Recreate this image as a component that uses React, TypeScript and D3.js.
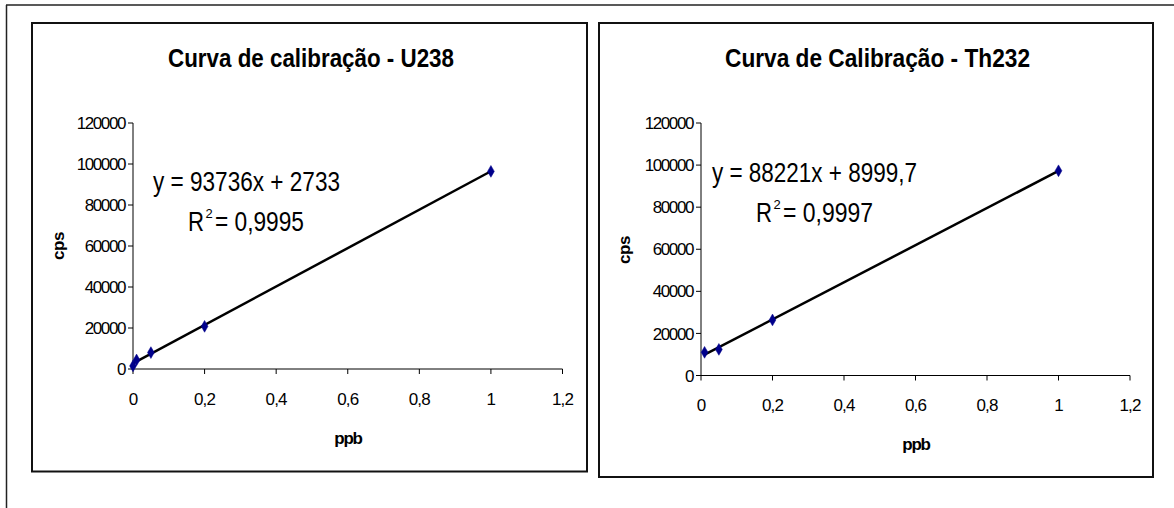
import React from "react";
import * as d3 from "d3";

// ---- data ----
const u238X = [0, 0.01, 0.05, 0.2, 1];
const u238Y = [1500, 4400, 8000, 20800, 96400];
const u238Slope = 93736;
const u238Intercept = 2733;

const th232X = [0.01, 0.05, 0.2, 1];
const th232Y = [11000, 12400, 26400, 97300];
const th232Slope = 88221;
const th232Intercept = 8999.7;

const xTicks = [0, 0.2, 0.4, 0.6, 0.8, 1, 1.2];
const yTicks = [0, 20000, 40000, 60000, 80000, 100000, 120000];

const titles = ["Curva de calibração - U238", "Curva de Calibração - Th232"];
const eqLines1 = ["y = 93736x + 2733", "y = 88221x + 8999,7"];
const eqLines2 = ["= 0,9995", "= 0,9997"];
const xLabel = "ppb";
const yLabel = "cps";

const fmt = d3.formatLocale({ decimal: ",", thousands: "", grouping: [3], currency: ["", ""] }).format("~f");

type Layout = {
  box: [number, number, number, number];
  x0: number; x1: number; y0: number; y1: number;
  titleX: number; titleY: number; titleW: number;
  eq1X: number; eq1Y: number; eq1W: number;
  eq2X: number; eq2Y: number; eq2W: number;
  xTickY: number; xLabX: number; xLabY: number;
  yLabX: number; yLabY: number;
};

function Chart(props: {
  L: Layout; xs: number[]; ys: number[]; slope: number; intercept: number;
  title: string; eq1: string; eq2: string;
}) {
  const { L, xs, ys, slope, intercept, title, eq1, eq2 } = props;
  const x = d3.scaleLinear().domain([0, 1.2]).range([L.x0, L.x1]);
  const y = d3.scaleLinear().domain([0, 120000]).range([L.y0, L.y1]);
  const xmin = d3.min(xs) as number;
  const xmax = d3.max(xs) as number;
  const trend = d3.line<number>().x((d) => x(d)).y((d) => y(slope * d + intercept))([xmin, xmax]) || "";
  const diamond = d3.symbol(d3.symbolDiamond, 40)() || "";
  const font = "Arial, 'Liberation Sans', sans-serif";
  const [bx, by, bw, bh] = L.box;
  return (
    <g fontFamily={font}>
      <rect x={bx} y={by} width={bw} height={bh} fill="#fff" stroke="#111" strokeWidth={2} />
      <text x={L.titleX} y={L.titleY} fontSize={26} fontWeight="bold" textAnchor="middle"
        textLength={L.titleW} lengthAdjust="spacingAndGlyphs">{title}</text>
      {/* axes */}
      <line x1={L.x0} x2={L.x0} y1={L.y0} y2={L.y1} stroke="#000" strokeWidth={1} />
      <line x1={L.x0} x2={L.x1} y1={L.y0} y2={L.y0} stroke="#000" strokeWidth={1} />
      {yTicks.map((t) => (
        <g key={"y" + t}>
          <line x1={L.x0 - 5} x2={L.x0} y1={y(t)} y2={y(t)} stroke="#000" strokeWidth={1} />
          <text x={L.x0 - 8} y={y(t)} dy="0.36em" fontSize={17} letterSpacing={-1.4} textAnchor="end">{fmt(t)}</text>
        </g>
      ))}
      {xTicks.map((t) => (
        <g key={"x" + t}>
          <line x1={x(t)} x2={x(t)} y1={L.y0} y2={L.y0 + 5} stroke="#000" strokeWidth={1} />
          <text x={x(t)} y={L.xTickY} fontSize={17} letterSpacing={-0.8} textAnchor="middle">{fmt(t)}</text>
        </g>
      ))}
      <text x={L.xLabX} y={L.xLabY} fontSize={17} fontWeight="bold" letterSpacing={-1.2} textAnchor="middle">{xLabel}</text>
      <text transform={`translate(${L.yLabX},${L.yLabY}) rotate(-90)`} fontSize={17} fontWeight="bold" letterSpacing={-0.5} textAnchor="middle">{yLabel}</text>
      {/* trend line */}
      <path d={trend} stroke="#000" strokeWidth={2.5} fill="none" />
      {xs.map((v, i) => (
        <path key={i} d={diamond} transform={`translate(${x(v)},${y(ys[i])})`} fill="#00008b" stroke="#00008b" strokeWidth={0.5} />
      ))}
      <text x={L.eq1X} y={L.eq1Y} fontSize={27} textLength={L.eq1W} lengthAdjust="spacingAndGlyphs">{eq1}</text>
      <text x={L.eq2X} y={L.eq2Y} fontSize={27} textLength={16} lengthAdjust="spacingAndGlyphs">R</text>
      <text x={L.eq2X + 17.5} y={L.eq2Y - 13} fontSize={13}>2</text>
      <text x={L.eq2X + 27} y={L.eq2Y} fontSize={27} textLength={L.eq2W - 27} lengthAdjust="spacingAndGlyphs">{eq2}</text>
    </g>
  );
}

const leftL: Layout = {
  box: [32, 23, 555, 448.5],
  x0: 133, x1: 562.5, y0: 369, y1: 123,
  titleX: 311, titleY: 67, titleW: 286,
  eq1X: 153, eq1Y: 191, eq1W: 187,
  eq2X: 188, eq2Y: 231, eq2W: 116,
  xTickY: 405, xLabX: 348, xLabY: 444,
  yLabX: 64, yLabY: 246,
};

const rightL: Layout = {
  box: [599, 23, 554, 454],
  x0: 701, x1: 1130, y0: 375.5, y1: 123,
  titleX: 877.5, titleY: 67, titleW: 305,
  eq1X: 712, eq1Y: 182, eq1W: 205,
  eq2X: 756, eq2Y: 222, eq2W: 117,
  xTickY: 411, xLabX: 916, xLabY: 450,
  yLabX: 630, yLabY: 250,
};

export default function App() {
  return (
    <svg width={1174} height={508} style={{ position: "absolute", left: 0, top: 0, background: "#fff" }}>
      <rect x={0} y={0} width={1174} height={508} fill="#fff" />
      <line x1={6} x2={1174} y1={5} y2={5} stroke="#222" strokeWidth={1.5} />
      <line x1={6.5} x2={6.5} y1={5} y2={508} stroke="#222" strokeWidth={1.5} />
      <Chart L={leftL} xs={u238X} ys={u238Y} slope={u238Slope} intercept={u238Intercept}
        title={titles[0]} eq1={eqLines1[0]} eq2={eqLines2[0]} />
      <Chart L={rightL} xs={th232X} ys={th232Y} slope={th232Slope} intercept={th232Intercept}
        title={titles[1]} eq1={eqLines1[1]} eq2={eqLines2[1]} />
    </svg>
  );
}
